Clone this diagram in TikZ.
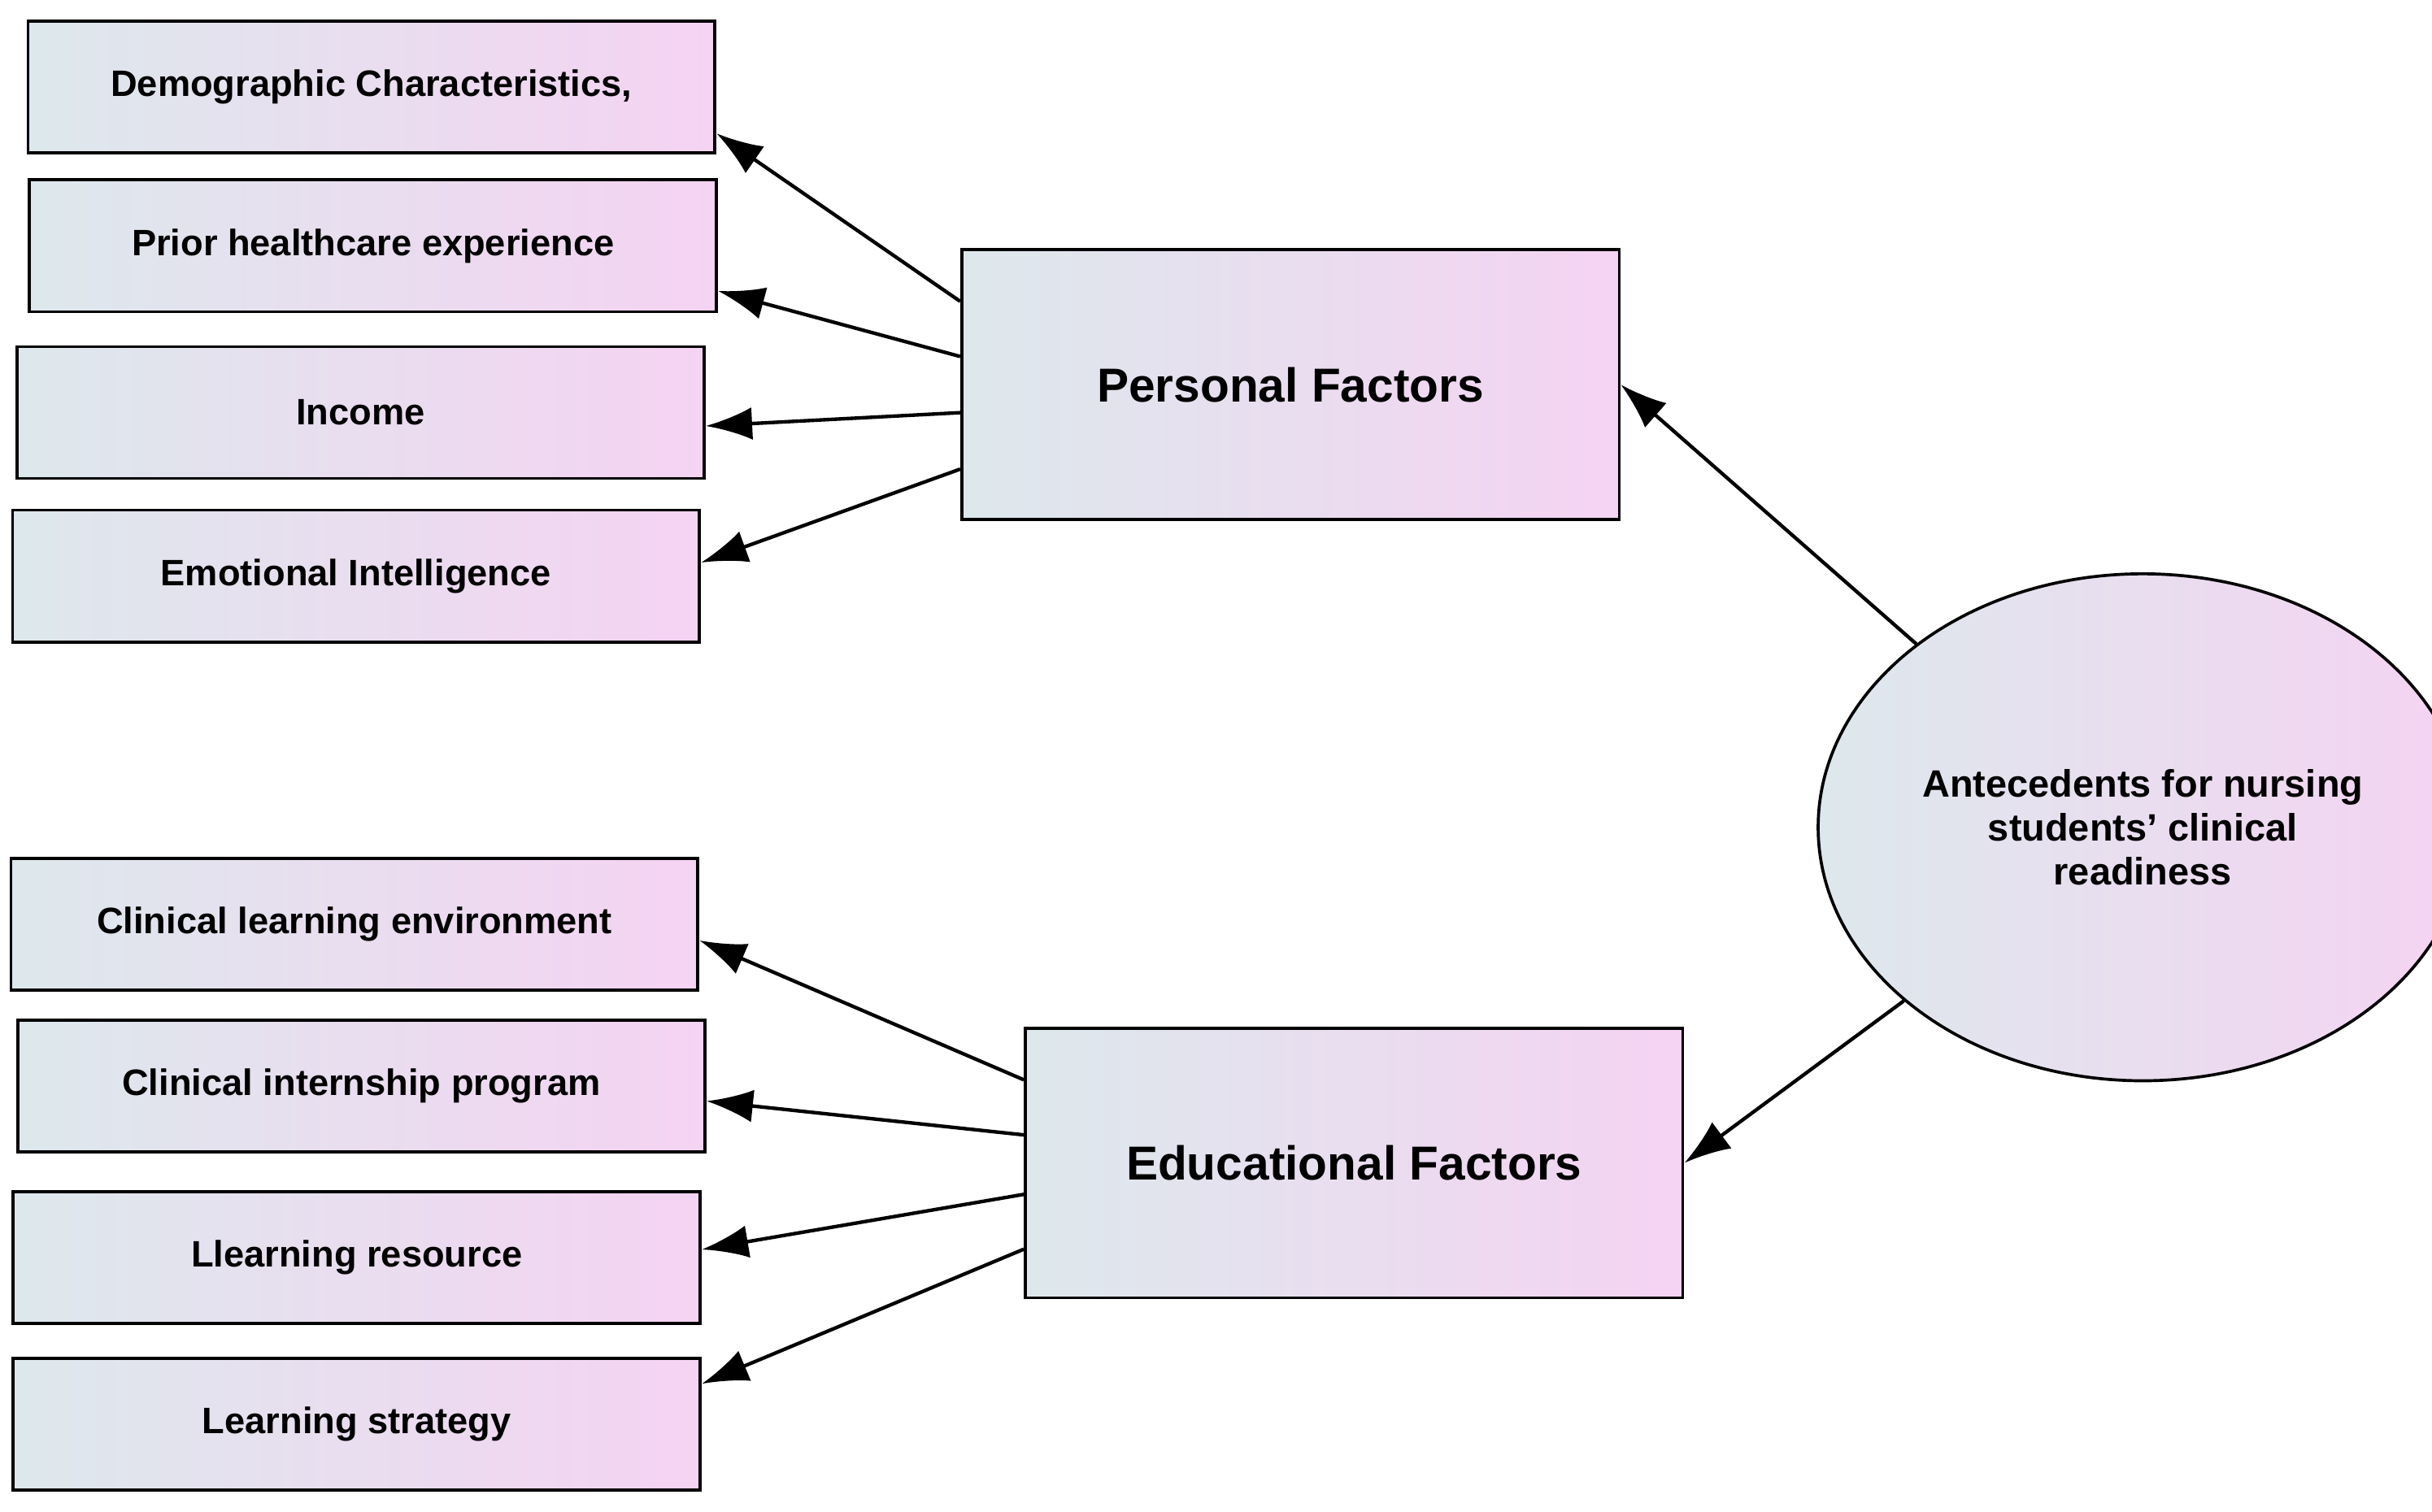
\documentclass[tikz,border=0pt]{standalone}
\usepackage{fontspec}
\setmainfont{Liberation Sans}
\usetikzlibrary{shapes.geometric, arrows.meta, positioning, calc}
\definecolor{shadeL}{HTML}{DDE8EC}
\definecolor{shadeR}{HTML}{F5D3F2}
\begin{document}
\begin{tikzpicture}[x=0.02cm, y=-0.02cm, >={Latex[length=0.6cm, width=0.42cm]}, line width=1.3pt]
    % Styles
    \tikzset{
        item/.style = {rectangle, draw, line width=1.1pt, left color=shadeL, right color=shadeR, minimum width=8.86cm, minimum height=1.7cm, font=\fontsize{13.5}{16}\selectfont\bfseries},
        factor/.style = {rectangle, draw, line width=1.1pt, left color=shadeL, right color=shadeR, minimum width=8.48cm, minimum height=3.48cm, font=\fontsize{17.5}{20}\selectfont\bfseries},
        core/.style = {ellipse, draw, line width=1.1pt, left color=shadeL, right color=shadeR, minimum width=7.14cm, minimum height=6.54cm, align=center, font=\fontsize{14}{16}\selectfont\bfseries}
    }
    \useasboundingbox (0,0) rectangle (1568,975);

    % Nodes
    \node [item] (demo) at (239.5,56) {Demographic Characteristics,};
    \node [item] (prior) at (240.5,158.5) {Prior healthcare experience};
    \node [item] (income) at (232.5,266) {Income};
    \node [item] (emo) at (229.5,371.5) {Emotional Intelligence};
    \node [item] (env) at (228.5,596) {Clinical learning environment};
    \node [item] (intern) at (233,700.5) {Clinical internship program};
    \node [item] (res) at (230,811) {Llearning resource};
    \node [item] (strat) at (230,918.5) {Learning strategy};
    \node [factor] (pf) at (832,248) {Personal Factors};
    \node [factor] (ef) at (873,750) {Educational Factors};
    \node [core] (ante) at (1381.5,533.5) {Antecedents for nursing\\students' clinical\\readiness};

    % Personal
    \draw[->] ($(pf.north west)!0.195!(pf.south west)$) -- ($(demo.north east)!0.845!(demo.south east)$);
    \draw[->] ($(pf.north west)!0.397!(pf.south west)$) -- ($(prior.north east)!0.835!(prior.south east)$);
    \draw[->] ($(pf.north west)!0.603!(pf.south west)$) -- ($(income.north east)!0.6!(income.south east)$);
    \draw[->] ($(pf.north west)!0.81!(pf.south west)$) -- ($(emo.north east)!0.4!(emo.south east)$);

    % Educational
    \draw[->] ($(ef.north west)!0.195!(ef.south west)$) -- ($(env.north east)!0.62!(env.south east)$);
    \draw[->] ($(ef.north west)!0.397!(ef.south west)$) -- ($(intern.north east)!0.61!(intern.south east)$);
    \draw[->] ($(ef.north west)!0.615!(ef.south west)$) -- ($(res.north east)!0.44!(res.south east)$);
    \draw[->] ($(ef.north west)!0.816!(ef.south west)$) -- ($(strat.north east)!0.2!(strat.south east)$);

    % Antecedents
    \draw[->] (ante.141) -- (pf.east);
    \draw[->] (ante.216) -- (ef.east);
\end{tikzpicture}
\end{document}
